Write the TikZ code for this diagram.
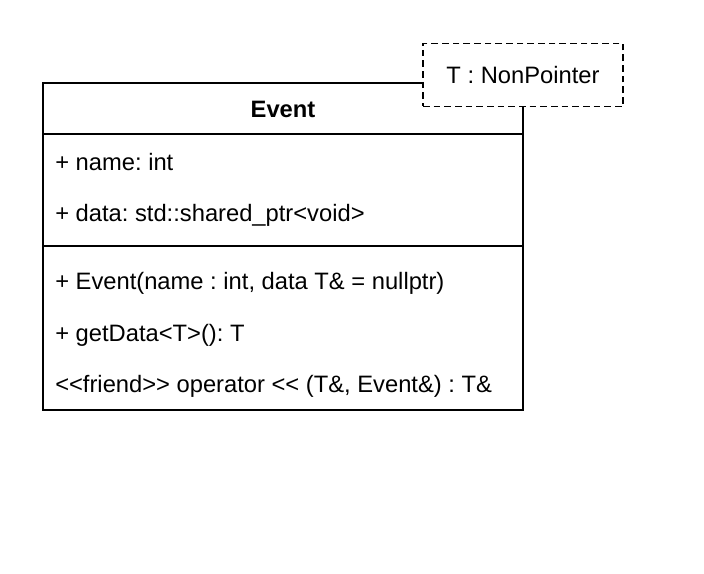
\documentclass[tikz,border=0pt]{standalone}
\usepackage{fontspec}
\setmainfont{Liberation Sans}
\usetikzlibrary{positioning}
\frenchspacing

\begin{document}
\begin{tikzpicture}[
    x=0.75pt, y=-0.75pt,
    part/.style={rectangle, draw, line width=1.4pt, minimum width=360pt, inner sep=0pt, outer sep=0pt},
    member/.style={anchor=west, font=\fontsize{17.8}{20}\selectfont, inner sep=0pt},
    tparam/.style={rectangle, draw, dashed, dash pattern=on 5pt off 3pt, line width=1.4pt, fill=white,
                   minimum width=150pt, minimum height=47.25pt, font=\fontsize{17.8}{20}\selectfont}
]
\useasboundingbox (0,0) rectangle (704,574);
\node[part, minimum height=38.25pt, anchor=north west] (head) at (43,83) {};
\node[part, minimum height=84pt, below=0pt of head] (attrs) {};
\node[part, minimum height=123pt, below=0pt of attrs] (ops) {};
\node[font=\fontsize{17.8}{20}\selectfont\bfseries] (name) at ([yshift=-1pt]head.center) {Event};
\node[member] (a1) at (55,162) {+ name: int};
\node[member] (a2) at (55,215) {+ data: std::shared\_ptr<void>};
\node[member] (o1) at (55,283) {+ Event(name : int, data T\& = nullptr)};
\node[member] (o2) at (55,335) {+ getData<T>(): T};
\node[member] (o3) at (55,386) {<{}<friend>{}> operator <{}< (T\&, Event\&) : T\&};
\node[tparam] (tmpl) at (523,75) {T : NonPointer};
\end{tikzpicture}
\end{document}
